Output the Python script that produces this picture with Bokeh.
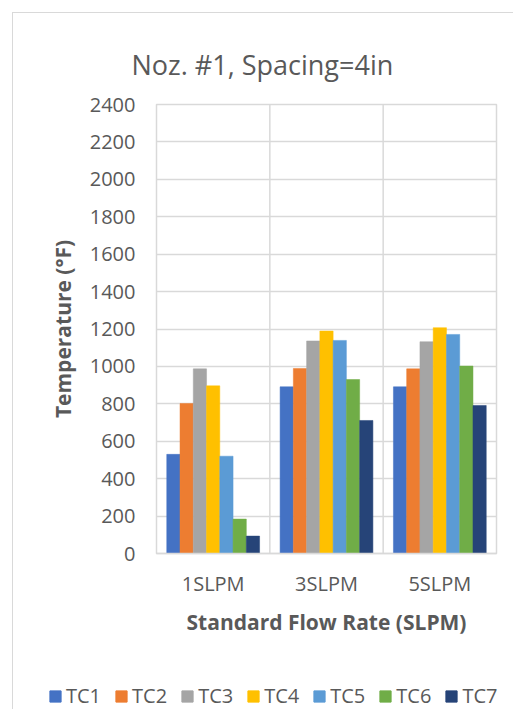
from bokeh.plotting import figure
from bokeh.layouts import column
from bokeh.models import (Range1d, FactorRange, SingleIntervalTicker, Span,
                          Legend, LegendItem, ColumnDataSource)
from bokeh.transform import dodge
from bokeh.embed import file_html
from bokeh.resources import INLINE

# ---- data ----
categories = ["1SLPM", "3SLPM", "5SLPM"]
series_names = ["TC1", "TC2", "TC3", "TC4", "TC5", "TC6", "TC7"]
TC1 = [530, 891, 891]
TC2 = [802, 989, 987]
TC3 = [987, 1136, 1132]
TC4 = [896, 1189, 1207]
TC5 = [520, 1139, 1171]
TC6 = [184, 930, 1002]
TC7 = [93, 711, 791]
series_values = [TC1, TC2, TC3, TC4, TC5, TC6, TC7]
y_ticks = list(range(0, 2401, 200))

colors = ["#4472C4", "#ED7D31", "#A5A5A5", "#FFC000", "#5B9BD5", "#70AD47", "#264478"]
FONT = "Open Sans"
TXT = "#595959"
GRID = "#d9d9d9"
BORDER = "1.5px solid #d9d9d9"

p = figure(frame_width=339, frame_height=448, output_backend="svg", toolbar_location=None,
           x_range=FactorRange(factors=categories, range_padding=0),
           y_range=Range1d(y_ticks[0], y_ticks[-1]),
           min_border_left=143, min_border_right=18, min_border_top=91, min_border_bottom=89)
p.frame_align = False
p.margin = (12, 0, 0, 12)
p.styles = {"border-left": BORDER, "border-top": BORDER}
p.background_fill_color = "white"
p.border_fill_color = "white"
p.outline_line_color = GRID
p.outline_line_width = 1.5

p.title.text = "Noz. #1, Spacing=4in"
p.title.align = "left"
p.title.offset = -25
p.title.standoff = 44
p.title.text_font = FONT
p.title.text_font_size = "27px"
p.title.text_font_style = "normal"
p.title.text_color = TXT

data = {"cat": categories}
for n, v in zip(series_names, series_values):
    data[n] = v
src = ColumnDataSource(data)

bw = 0.117
k = len(series_names)
offsets = [(i - (k - 1) / 2) * bw for i in range(k)]
for n, c, off in zip(series_names, colors, offsets):
    p.vbar(x=dodge("cat", off, range=p.x_range), top=n, width=bw, source=src,
           fill_color=c, line_color=c, line_width=0.5)

# grids
p.xgrid.visible = False
p.ygrid.grid_line_color = GRID
p.ygrid.grid_line_width = 1.5
for i in range(1, len(categories)):
    p.add_layout(Span(location=i, dimension="height", line_color=GRID, line_width=1.5))

# axes
p.yaxis.ticker = SingleIntervalTicker(interval=200)
p.yaxis.axis_line_color = None
p.yaxis.major_tick_line_color = None
p.yaxis.minor_tick_line_color = None
p.yaxis.major_tick_out = 0
p.yaxis.major_label_standoff = 17
p.yaxis.major_label_text_font = FONT
p.yaxis.major_label_text_font_size = "20px"
p.yaxis.major_label_text_color = TXT
p.yaxis.axis_label = "Temperature (°F)"
p.yaxis.axis_label_text_font = FONT
p.yaxis.axis_label_text_font_style = "bold"
p.yaxis.axis_label_text_font_size = "21px"
p.yaxis.axis_label_text_color = TXT
p.yaxis.axis_label_standoff = 10

p.xaxis.axis_line_color = GRID
p.xaxis.axis_line_width = 1.5
p.xaxis.major_tick_line_color = None
p.xaxis.minor_tick_line_color = None
p.xaxis.major_tick_out = 0
p.xaxis.major_label_standoff = 16
p.xaxis.major_label_text_font = FONT
p.xaxis.major_label_text_font_size = "20px"
p.xaxis.major_label_text_color = TXT
p.xaxis.axis_label = "Standard Flow Rate (SLPM)"
p.xaxis.axis_label_text_font = FONT
p.xaxis.axis_label_text_font_style = "bold"
p.xaxis.axis_label_text_font_size = "21px"
p.xaxis.axis_label_text_color = TXT
p.xaxis.axis_label_standoff = 8

# ---- legend strip (same series, hidden glyphs; only the legend is shown) ----
pl = figure(width=500, height=68, output_backend="svg", toolbar_location=None,
            x_range=p.x_range, y_range=p.y_range,
            min_border=0, min_border_left=0, min_border_right=0,
            min_border_top=0, min_border_bottom=0)
pl.frame_align = False
pl.margin = (0, 0, 0, 12)
pl.styles = {"border-left": BORDER}
pl.axis.visible = False
pl.grid.visible = False
pl.outline_line_color = None
pl.background_fill_color = "white"
pl.border_fill_color = "white"
items = []
for n, c, off in zip(series_names, colors, offsets):
    r = pl.vbar(x=dodge("cat", off, range=pl.x_range), top=n, width=bw, source=src,
                fill_color=c, line_color=c, visible=False)
    items.append(LegendItem(label=n, renderers=[r]))
legend = Legend(items=items, orientation="horizontal", location=(35, 0),
                padding=0, margin=0, spacing=13, glyph_width=14, glyph_height=14,
                label_standoff=4, border_line_color=None, background_fill_alpha=0,
                inactive_fill_alpha=0, click_policy="none",
                label_text_font=FONT, label_text_font_size="20px", label_text_color=TXT)
pl.add_layout(legend)

layout = column(p, pl, spacing=0)
open("out.html", "w").write(file_html(layout, INLINE))
